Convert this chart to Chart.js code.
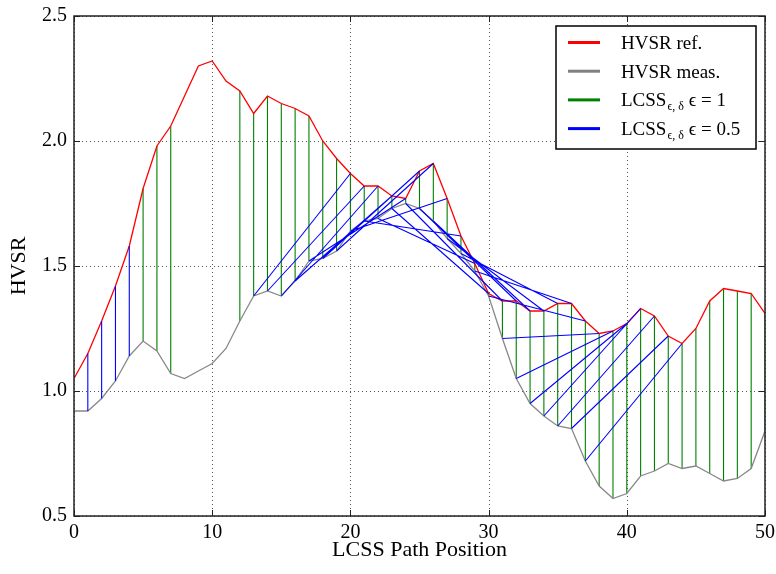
<!DOCTYPE html>
<html>
<head>
<meta charset="utf-8">
<style>
  html, body { margin: 0; padding: 0; background: #fff; }
  #chart { display: block; }
</style>
<script src="https://cdn.jsdelivr.net/npm/chart.js@4"></script>
</head>
<body>
<canvas id="chart" width="776" height="574"></canvas>
<script>
var positions = [0,1,2,3,4,5,6,7,8,9,10,11,12,13,14,15,16,17,18,19,20,21,22,23,24,25,
  26,27,28,29,30,31,32,33,34,35,36,37,38,39,40,41,42,43,44,45,46,47,48,49,50];

var hvsrRef = [1.05,1.15,1.28,1.42,1.58,1.81,1.98,2.06,2.18,2.30,2.32,2.24,2.20,2.11,2.18,2.15,
  2.13,2.10,2.00,1.93,1.87,1.82,1.82,1.78,1.77,1.88,1.91,1.77,1.62,1.51,1.39,1.36,1.36,1.32,
  1.32,1.35,1.35,1.28,1.23,1.24,1.27,1.33,1.30,1.22,1.19,1.25,1.36,1.41,1.40,1.39,1.31];

var hvsrMeas = [0.92,0.92,0.97,1.04,1.14,1.20,1.16,1.07,1.05,1.08,1.11,1.17,1.28,1.38,1.40,1.38,
  1.44,1.52,1.53,1.56,1.64,1.68,1.69,1.73,1.75,1.73,1.68,1.61,1.55,1.48,1.38,1.21,1.05,0.95,
  0.90,0.86,0.85,0.72,0.62,0.57,0.59,0.66,0.68,0.71,0.69,0.70,0.67,0.64,0.65,0.69,0.84];

// matched index pairs [ref, meas]
var matchEps1 = [[5,5],[6,6],[7,7],[12,12],[13,13],[14,14],[15,15],[16,16],[17,17],[18,18],
  [19,19],[20,20],[21,21],[22,22],[23,23],[24,24],[25,25],[26,26],[27,27],[28,28],[29,29],
  [30,30],[31,31],[32,32],[33,33],[34,34],[35,35],[36,36],[37,37],[38,38],[39,39],[40,40],
  [41,41],[42,42],[43,43],[44,44],[45,45],[46,46],[47,47],[48,48],[49,49],[50,50]];

var matchEps05 = [[1,1],[2,2],[3,3],[4,4],[20,13],[21,14],[22,15],[23,16],[24,17],[25,18],
  [26,19],[27,20],[28,21],[29,22],[30,23],[31,24],[32,25],[33,26],[34,27],[35,28],[36,29],
  [37,30],[38,31],[39,32],[40,33],[41,34],[42,35],[43,36],[44,37]];

var xTicks = [0, 10, 20, 30, 40, 50];
var yTicks = [0.5, 1.0, 1.5, 2.0, 2.5];

var SERIF = "'Liberation Serif', 'Times New Roman', serif";

function series(vals) {
  return vals.map(function(v, i) { return { x: positions[i], y: v }; });
}

// one dataset per colour, segments separated by null points
function links(pairs) {
  var pts = [];
  pairs.forEach(function(p) {
    pts.push({ x: positions[p[0]], y: hvsrRef[p[0]] });
    pts.push({ x: positions[p[1]], y: hvsrMeas[p[1]] });
    pts.push({ x: positions[p[1]], y: null });
  });
  return pts;
}

var legendItems = [
  { color: '#ff0000', main: 'HVSR ref.' },
  { color: '#808080', main: 'HVSR meas.' },
  { color: '#008000', main: 'LCSS', sub: '\u03f5, \u03b4', tail: ' \u03f5 = 1' },
  { color: '#0000ff', main: 'LCSS', sub: '\u03f5, \u03b4', tail: ' \u03f5 = 0.5' }
];

var framePlugin = {
  id: 'frame',
  beforeDatasetsDraw: function(chart) {
    var ctx = chart.ctx, a = chart.chartArea;
    var xs = chart.scales.x, ys = chart.scales.y;
    ctx.save();
    ctx.strokeStyle = '#555';
    ctx.lineWidth = 1;
    ctx.setLineDash([1, 3]);
    xTicks.forEach(function(v) {
      var px = Math.round(xs.getPixelForValue(v)) + 0.5;
      ctx.beginPath(); ctx.moveTo(px, a.top); ctx.lineTo(px, a.bottom); ctx.stroke();
    });
    yTicks.forEach(function(v) {
      var py = Math.round(ys.getPixelForValue(v)) + 0.5;
      ctx.beginPath(); ctx.moveTo(a.left, py); ctx.lineTo(a.right, py); ctx.stroke();
    });
    ctx.restore();
  },
  afterDatasetsDraw: function(chart) {
    var ctx = chart.ctx, a = chart.chartArea;
    var xs = chart.scales.x, ys = chart.scales.y;
    ctx.save();
    ctx.setLineDash([]);
    ctx.strokeStyle = '#222';
    ctx.lineWidth = 1;
    // inward tick marks on all four sides
    var tl = 6;
    xTicks.forEach(function(v) {
      var px = Math.round(xs.getPixelForValue(v)) + 0.5;
      ctx.beginPath();
      ctx.moveTo(px, a.bottom); ctx.lineTo(px, a.bottom - tl);
      ctx.moveTo(px, a.top); ctx.lineTo(px, a.top + tl);
      ctx.stroke();
    });
    yTicks.forEach(function(v) {
      var py = Math.round(ys.getPixelForValue(v)) + 0.5;
      ctx.beginPath();
      ctx.moveTo(a.left, py); ctx.lineTo(a.left + tl, py);
      ctx.moveTo(a.right, py); ctx.lineTo(a.right - tl, py);
      ctx.stroke();
    });
    ctx.lineWidth = 1.5;
    ctx.strokeRect(a.left, a.top, a.right - a.left, a.bottom - a.top);

    // legend
    var bx = 556, by = 26, bw = 200, bh = 123;
    ctx.fillStyle = '#fff';
    ctx.fillRect(bx, by, bw, bh);
    ctx.lineWidth = 1.5;
    ctx.strokeStyle = '#000';
    ctx.strokeRect(bx, by, bw, bh);
    legendItems.forEach(function(it, k) {
      var cy = 42.5 + k * 28.7;
      ctx.strokeStyle = it.color;
      ctx.lineWidth = 3;
      ctx.beginPath(); ctx.moveTo(568, cy); ctx.lineTo(600, cy); ctx.stroke();
      ctx.fillStyle = '#000';
      ctx.textBaseline = 'alphabetic';
      ctx.textAlign = 'left';
      var base = cy + 6.5;
      ctx.font = '19px ' + SERIF;
      var tx = 621;
      ctx.fillText(it.main, tx, base);
      tx += ctx.measureText(it.main).width;
      if (it.sub) {
        ctx.font = '12px ' + SERIF;
        ctx.fillText(it.sub, tx + 1, base + 4);
        tx += ctx.measureText(it.sub).width + 1;
        ctx.font = '19px ' + SERIF;
        ctx.fillText(it.tail, tx, base);
      }
    });
    ctx.restore();
  }
};

new Chart(document.getElementById('chart'), {
  type: 'line',
  data: {
    datasets: [
      { label: 'LCSS eps 0.5', data: links(matchEps05), borderColor: '#0000ff', borderWidth: 1.1, order: 0 },
      { label: 'HVSR ref.', data: series(hvsrRef), borderColor: '#ff0000', borderWidth: 1.3, order: 1 },
      { label: 'HVSR meas.', data: series(hvsrMeas), borderColor: '#888888', borderWidth: 1.3, order: 2 },
      { label: 'LCSS eps 1', data: links(matchEps1), borderColor: '#008000', borderWidth: 1.1, order: 3 }
    ]
  },
  options: {
    responsive: false,
    animation: false,
    spanGaps: false,
    parsing: true,
    elements: { point: { radius: 0 }, line: { tension: 0, fill: false } },
    layout: { padding: { top: 16, right: 11, left: 0, bottom: 0 } },
    plugins: { legend: { display: false }, tooltip: { enabled: false } },
    scales: {
      x: {
        type: 'linear', min: 0, max: 50,
        grid: { display: false, drawTicks: false },
        border: { display: false },
        ticks: { stepSize: 10, padding: 5, color: '#000', font: { family: SERIF, size: 20 }, maxRotation: 0 },
        title: { display: true, text: 'LCSS Path Position', color: '#000',
                 font: { family: SERIF, size: 22 }, padding: { top: 0, bottom: 11 } },
        afterFit: function(s) { s.height = 58; s.paddingLeft = 0; s.paddingRight = 0; }
      },
      y: {
        type: 'linear', min: 0.5, max: 2.5,
        grid: { display: false, drawTicks: false },
        border: { display: false },
        ticks: { stepSize: 0.5, padding: 7, color: '#000', font: { family: SERIF, size: 20 },
                 callback: function(v) { return v.toFixed(1); } },
        title: { display: true, text: 'HVSR', color: '#000',
                 font: { family: SERIF, size: 22 }, padding: { top: 6, bottom: 0 } },
        afterFit: function(s) { s.width = 74; s.paddingTop = 0; s.paddingBottom = 0; }
      }
    }
  },
  plugins: [framePlugin]
});
</script>
</body>
</html>
